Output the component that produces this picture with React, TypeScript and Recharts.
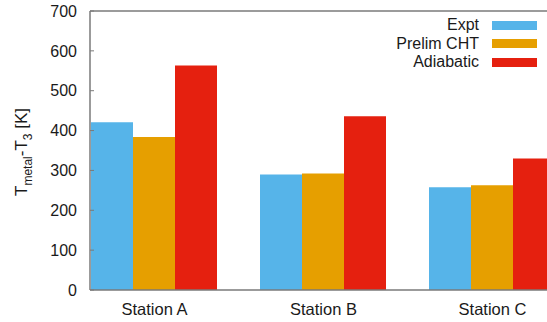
import React from 'react';
import { BarChart, Bar, XAxis, YAxis, Legend, ReferenceLine } from 'recharts';

const stations = ['Station A', 'Station B', 'Station C'];
const seriesNames = ['Expt', 'Prelim CHT', 'Adiabatic'];
const expt = [421, 290, 258];
const prelimCht = [384, 292, 263];
const adiabatic = [563, 436, 330];
const yTicks = [0, 100, 200, 300, 400, 500, 600, 700];

const data = stations.map((name, i) => ({
  name,
  Expt: expt[i],
  'Prelim CHT': prelimCht[i],
  Adiabatic: adiabatic[i],
}));

const FONT = '"Liberation Sans", Arial, sans-serif';
const AXIS = '#7a7a7a';

const LegendBox = (props: any) => {
  const items = [...(props.payload || [])].sort(
    (a: any, b: any) => seriesNames.indexOf(a.value) - seriesNames.indexOf(b.value)
  );
  return (
    <div style={{ fontFamily: FONT, fontSize: 16, color: '#1a1a1a' }}>
      {items.map((it: any) => (
        <div key={it.value} style={{ display: 'flex', alignItems: 'center', justifyContent: 'flex-end', height: 18.5 }}>
          <span style={{ marginRight: 13 }}>{it.value}</span>
          <span style={{ display: 'inline-block', width: 45, height: 9, background: it.color }} />
        </div>
      ))}
    </div>
  );
};

const YLabel = () => (
  <text
    transform="translate(27,152) rotate(-90)"
    textAnchor="middle"
    fontFamily={FONT}
    fill="#1a1a1a"
    fontSize={17}
  >
    T<tspan fontSize={12} dy={5}>metal</tspan>
    <tspan dy={-5}>-T</tspan>
    <tspan fontSize={12} dy={5}>3</tspan>
    <tspan dy={-5}> [K]</tspan>
  </text>
);

export default function App() {
  return (
    <div style={{ position: 'absolute', left: 0, top: 0, width: 547, height: 322, overflow: 'hidden', background: '#fff' }}>
      <BarChart
        width={577}
        height={322}
        data={data}
        margin={{ top: 11, right: 0, bottom: 0, left: 0 }}
        barCategoryGap={21}
        barGap={0}
      >
        <XAxis
          dataKey="name"
          height={32}
          padding={{ left: -20, right: 0 }}
          tickLine={false}
          tickSize={0}
          tickMargin={13}
          axisLine={{ stroke: AXIS, strokeWidth: 1.5 }}
          tick={{ fill: '#1a1a1a', fontSize: 16.5, fontFamily: FONT }}
        />
        <YAxis
          width={90}
          domain={[0, 700]}
          ticks={yTicks}
          tickSize={-4}
          tickMargin={17}
          axisLine={{ stroke: AXIS, strokeWidth: 1.5 }}
          tickLine={{ stroke: AXIS }}
          tick={{ fill: '#1a1a1a', fontSize: 16, fontFamily: FONT }}
          label={<YLabel />}
        />
        <ReferenceLine y={700} stroke={AXIS} strokeWidth={1.5} />
        <Legend
          layout="vertical"
          align="center"
          verticalAlign="middle"
          content={<LegendBox />}
          wrapperStyle={{ position: 'absolute', top: 16, left: 300, width: 237 }}
        />
        <Bar dataKey="Expt" fill="#56b4e9" isAnimationActive={false} />
        <Bar dataKey="Prelim CHT" fill="#e69f00" isAnimationActive={false} />
        <Bar dataKey="Adiabatic" fill="#e5200f" isAnimationActive={false} />
      </BarChart>
    </div>
  );
}
